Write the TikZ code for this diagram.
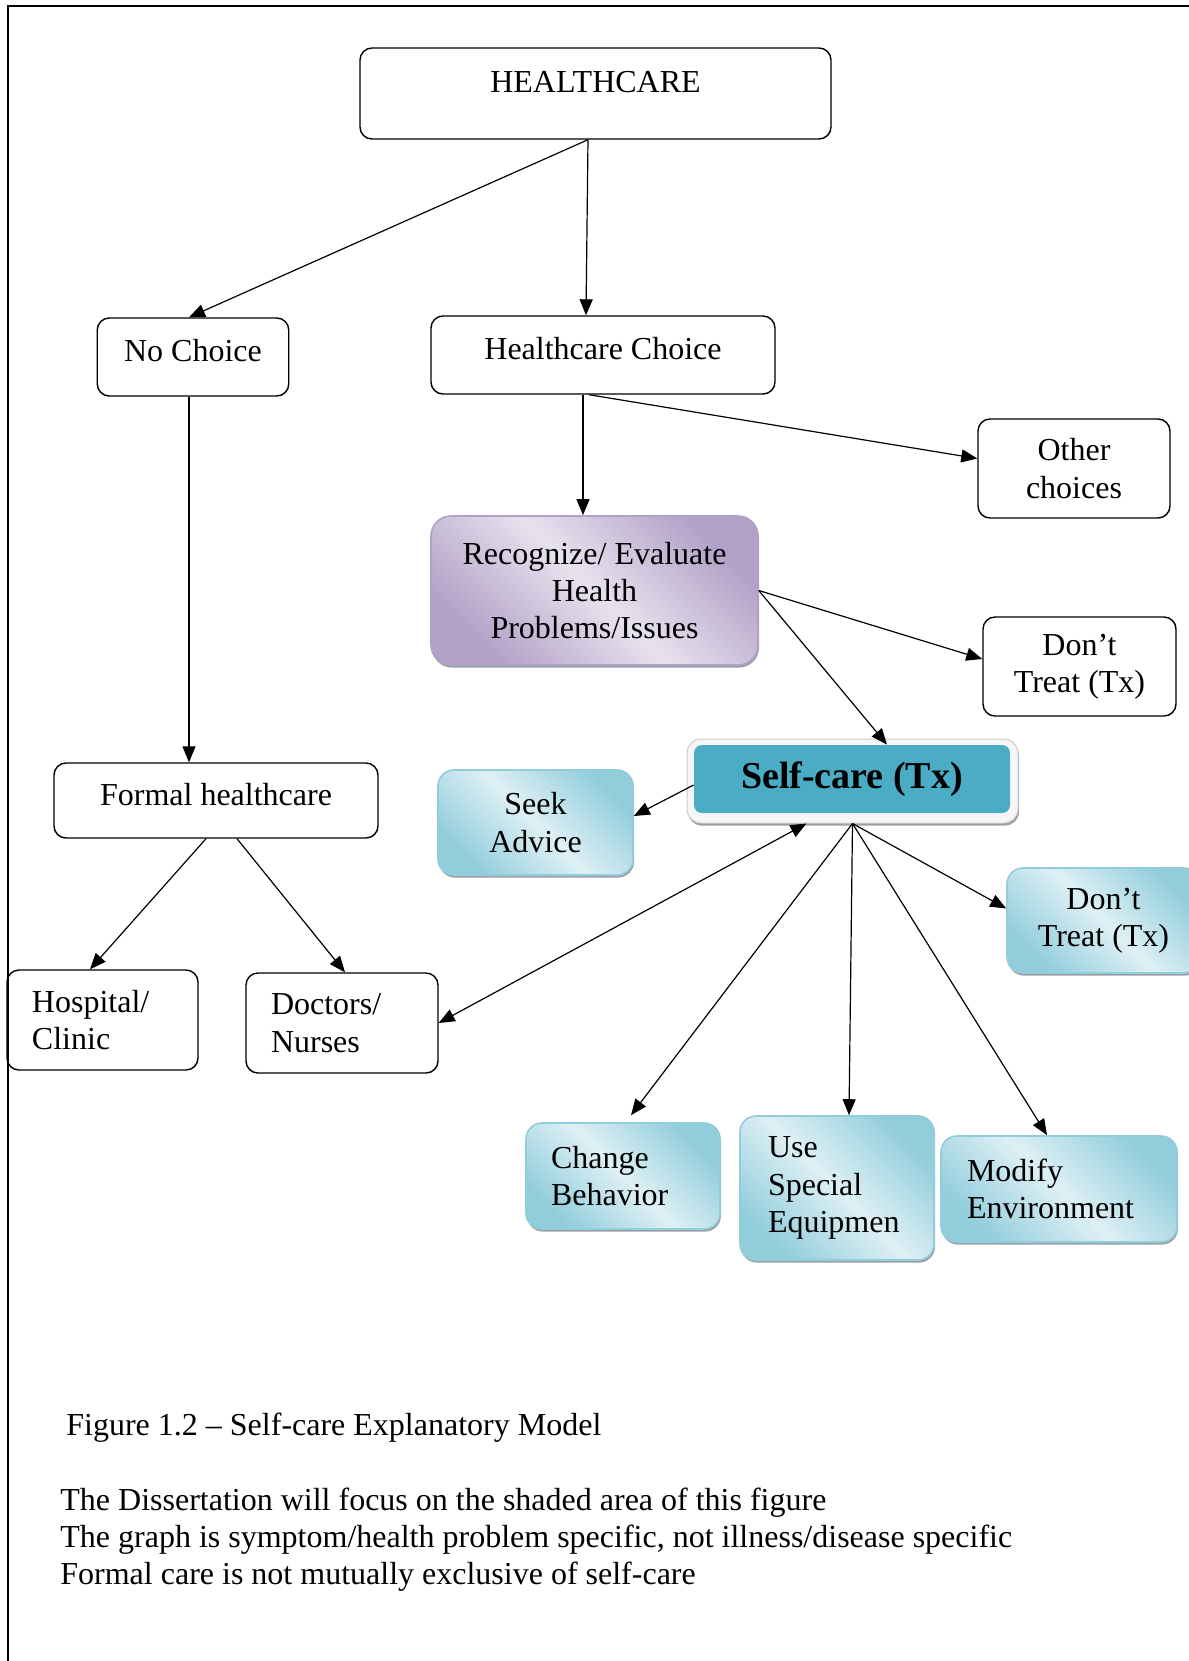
\documentclass[tikz,border=0pt]{standalone}
\usepackage{fontspec}
\setmainfont{Liberation Serif}
\usetikzlibrary{arrows.meta,shadows}

\definecolor{tealfill}{RGB}{75,172,198}
\definecolor{bluedark}{RGB}{146,205,220}
\definecolor{bluelight}{RGB}{222,240,245}
\definecolor{purpdark}{RGB}{178,161,199}
\definecolor{purplight}{RGB}{231,226,238}
\definecolor{shadowgray}{RGB}{110,120,130}

\newcommand\diagfont{\fontsize{16}{18.6}\selectfont}
\newcommand\headfont{\fontsize{19}{21}\selectfont\bfseries}

\tikzset{
  plainbox/.style={draw, line width=0.7pt, rounded corners=6pt, inner sep=0pt,
    align=center, font=\diagfont},
  leftbox/.style={align=left, inner xsep=12.5pt},
  softshadow/.style={drop shadow={shadow xshift=0.5pt, shadow yshift=-1.3pt,
    fill=shadowgray, opacity=0.7}},
  bluebox/.style={draw=bluedark, line width=0.8pt, rounded corners=8pt, inner sep=0pt,
    align=center, font=\diagfont, softshadow,
    top color=bluedark, bottom color=bluedark, middle color=bluelight, shading angle=-45},
  purplebox/.style={draw=purpdark, line width=0.8pt, rounded corners=10pt, inner sep=0pt,
    align=center, font=\diagfont, softshadow,
    top color=purpdark, bottom color=purpdark, middle color=purplight, shading angle=-45},
  conn/.style={-{Triangle[length=8pt,width=6.5pt]}, line width=0.6pt},
  bothconn/.style={{Triangle[length=8pt,width=6.5pt]}-{Triangle[length=8pt,width=6.5pt]}, line width=0.6pt},
  caption/.style={anchor=west, inner sep=0pt, font=\diagfont}
}

\begin{document}
\begin{tikzpicture}[x=0.5pt, y=-0.5pt]
  \fill[white] (0,0) rectangle (1189,1661);
  \useasboundingbox (0,0) rectangle (1189,1661);

  % page frame
  \draw[line width=1pt] (7.5,1661) -- (7.5,5.5) -- (1189,5.5);

  % top level
  \node[plainbox, minimum width=235.5pt, minimum height=45.5pt,
        text height=12pt, text depth=3.5pt] (hc) at (595.5,93.5) {\raisebox{5pt}{HEALTHCARE}};
  \node[plainbox, minimum width=95.75pt, minimum height=39pt,
        text height=12pt, text depth=3.5pt] (noch) at (193,357) {\raisebox{2pt}{No Choice}};
  \node[plainbox, minimum width=172pt, minimum height=39pt,
        text height=12pt, text depth=3.5pt] (hcch) at (603,355) {\raisebox{2pt}{Healthcare Choice}};
  \node[plainbox, minimum width=96pt, minimum height=49.5pt] (other) at (1074,468.5) {Other\\choices};

  % recognition and self-care branch
  \node[purplebox, minimum width=163.5pt, minimum height=74.5pt] (recog) at (594.5,590.5)
        {Recognize/ Evaluate\\Health\\Problems/Issues};
  \node[plainbox, minimum width=96.5pt, minimum height=49.5pt] (dont1) at (1079.5,666.5) {Don’t\\Treat (Tx)};

  \node[draw=gray!40, fill=gray!7, line width=0.5pt, rounded corners=7pt, inner sep=0pt,
        minimum width=165.5pt, minimum height=42pt, softshadow] (selfout) at (852.5,781) {};
  \node[fill=tealfill, rounded corners=4pt, inner sep=0pt, font=\headfont,
        minimum width=158pt, minimum height=34pt] (selfin) at (852,779) {Self-care (Tx)};

  \node[bluebox, minimum width=97.5pt, minimum height=52.5pt] (seek) at (535.5,822.5) {Seek\\Advice};
  \node[bluebox, minimum width=96.5pt, minimum height=52.5pt] (dont2) at (1103.5,920.5) {Don’t\\Treat (Tx)};

  \node[bluebox, leftbox, text width=72pt, minimum height=53pt] (change) at (623,1176) {Change\\Behavior};
  \node[bluebox, leftbox, inner xsep=14pt, text width=69pt, minimum height=72pt] (use) at (837,1188)
        {Use\\Special\\Equipmen};
  \node[bluebox, leftbox, inner xsep=13pt, text width=92pt, minimum height=53pt] (modify) at (1059,1189)
        {Modify\\Environment};

  % formal care branch
  \node[plainbox, minimum width=162pt, minimum height=37.5pt,
        text height=12pt, text depth=3.5pt] (formal) at (216,800.5) {\raisebox{2pt}{Formal healthcare}};
  \node[plainbox, leftbox, text width=70.5pt, minimum height=50pt] (hosp) at (102.5,1020) {Hospital/\\Clinic};
  \node[plainbox, leftbox, text width=71pt, minimum height=50pt] (doc) at (342,1023) {Doctors/\\Nurses};

  % connectors
  \draw[conn] ([xshift=-3.75pt]hc.south) -- ([xshift=-2pt]noch.north);
  \draw[conn] ([xshift=-3.75pt]hc.south) -- ([xshift=-8.5pt]hcch.north);
  \draw[conn] ([xshift=-10pt]hcch.south) -- ([xshift=-10pt]hcch.south |- recog.north);
  \draw[conn] ([xshift=-7pt]hcch.south) -- ([yshift=5pt]other.west);
  \draw[conn] ([xshift=-2pt]noch.south) -- ([xshift=-2pt]noch.south |- formal.north);
  \draw[conn] (recog.east) -- ([yshift=3.75pt]dont1.west);
  \draw[conn] (recog.east) -- ([xshift=17.5pt]selfin.north);
  \draw[conn] ([yshift=-3pt]selfin.west) -- ([yshift=3.25pt]seek.east);
  \draw[bothconn] (doc.east) -- ([xshift=-23pt]selfout.south);
  \draw[conn] (selfout.south) -- ([yshift=6pt]dont2.west);
  \draw[conn] (selfout.south) -- ([xshift=4pt,yshift=3.5pt]change.north);
  \draw[conn] (selfout.south) -- ([xshift=6pt]use.north);
  \draw[conn] (selfout.south) -- ([xshift=-6pt]modify.north);
  \draw[conn] ([xshift=-5pt]formal.south) -- ([xshift=-6.25pt]hosp.north);
  \draw[conn] ([xshift=10.5pt]formal.south) -- ([xshift=1.5pt]doc.north);

  % caption and notes
  \node[caption] (figcap) at (66,1428) {Figure 1.2 – Self-care Explanatory Model};
  \node[caption] (note1) at (60,1503) {The Dissertation will focus on the shaded area of this figure};
  \node[caption] (note2) at (60,1540) {The graph is symptom/health problem specific, not illness/disease specific};
  \node[caption] (note3) at (60,1577) {Formal care is not mutually exclusive of self-care};
\end{tikzpicture}
\end{document}
